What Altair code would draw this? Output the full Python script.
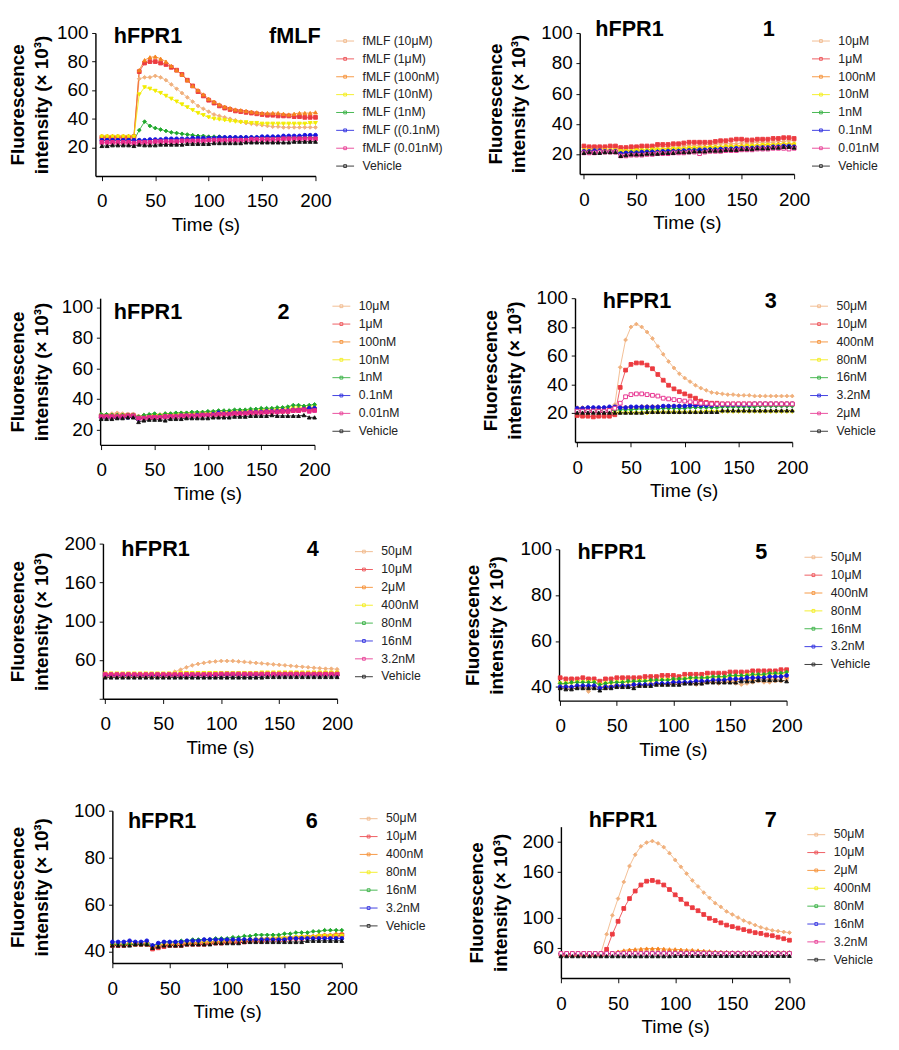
import altair as alt
import pandas as pd

# ---------------- data ----------------
TIME = [0, 5, 10, 15, 20, 25, 30, 35, 40, 45, 50, 55, 60, 65, 70, 75, 80, 85, 90, 95, 100,
        105, 110, 115, 120, 125, 130, 135, 140, 145, 150, 155, 160, 165, 170, 175, 180, 185, 190, 195, 200]

NAMES_FMLF = ["fMLF (10μM)", "fMLF (1μM)", "fMLF (100nM)", "fMLF (10nM)", "fMLF (1nM)",
              "fMLF ((0.1nM)", "fMLF (0.01nM)", "Vehicle"]
NAMES_12 = ["10μM", "1μM", "100nM", "10nM", "1nM", "0.1nM", "0.01nM", "Vehicle"]
NAMES_3 = ["50μM", "10μM", "400nM", "80nM", "16nM", "3.2nM", "2μM", "Vehicle"]
NAMES_47 = ["50μM", "10μM", "2μM", "400nM", "80nM", "16nM", "3.2nM", "Vehicle"]
NAMES_56 = ["50μM", "10μM", "400nM", "80nM", "16nM", "3.2nM", "Vehicle"]

FMLF = [
    [26, 26, 26, 26, 26, 26, 26, 68, 69, 69, 70, 69, 67, 64, 61, 58, 55, 52, 49, 47, 45, 43, 42, 41, 40, 39, 38, 37, 36.5, 36, 35.5, 35, 34.5, 34.5, 34, 34, 34, 34, 34, 34, 34],
    [27, 27, 27, 27, 27, 27, 27.5, 73, 79, 80, 80, 79, 78, 76, 74, 71, 67, 63, 59, 56, 53, 51, 49, 47.5, 46.5, 45.5, 45, 44.5, 44, 43.5, 43, 42.5, 42.5, 42, 42, 42, 41.5, 41.5, 41, 41, 41],
    [28, 28, 28, 28, 28, 28, 28, 74, 81, 83, 83.5, 82, 80, 77, 74, 71, 67, 63, 60, 57, 54, 52, 50, 48.5, 47.5, 46.5, 46, 45.5, 45, 44.5, 44, 44, 44, 44, 43.5, 43, 43.5, 44, 44, 44, 44.5],
    [27.5, 27.5, 27.5, 27.5, 27.5, 27.5, 27.5, 57, 62, 61, 59.5, 58, 56, 54, 52, 50, 48, 46, 44, 42.5, 41, 40, 39.5, 39, 38.5, 38, 37.5, 37.5, 37, 37, 36.5, 36.5, 36.5, 36.5, 36.5, 36.5, 36.5, 36.5, 36.5, 37, 37],
    [25, 25, 25, 25, 25, 25, 25, 32, 38, 35, 33.5, 32.5, 31.5, 30.5, 30, 29.5, 29, 28.5, 28, 28, 27.5, 27.5, 27.5, 27, 27, 27, 27, 27, 27, 27, 27, 27, 27, 27, 27, 27, 27, 27, 27, 27, 27],
    [25, 25, 25, 25, 25, 25, 25, 25, 25, 25.5, 25.5, 25.5, 26, 26, 26, 26, 26, 26.5, 26.5, 26.5, 26.5, 26.5, 27, 27, 27, 27, 27, 27, 27, 27, 27.5, 27.5, 27.5, 27.5, 28, 28, 28, 28, 28.5, 28.5, 28.5],
    [23.5, 23.5, 23.5, 23.5, 23.5, 23.5, 23, 23.5, 23.5, 23.5, 24, 24, 24, 24, 24, 24.5, 24.5, 24.5, 24.5, 24.5, 25, 25, 25, 25, 25, 25, 25, 25, 25.5, 25.5, 25.5, 25.5, 25.5, 25.5, 26, 26, 26, 26, 26, 26, 26],
    [21, 21, 21.5, 21.5, 21.5, 21.5, 21, 22, 21.5, 21.5, 21.5, 22, 22, 22, 22, 22, 22.5, 22.5, 22.5, 22.5, 22.5, 23, 23, 23, 23, 23, 23, 23.5, 23.5, 23.5, 23.5, 23.5, 23.5, 23.5, 23.5, 23.5, 24, 24, 24, 24, 24],
]

CPD1 = [
    [24.5, 24, 24, 24, 24.5, 24.5, 24, 23.5, 23.5, 24, 24, 24.5, 24.5, 24.5, 25, 25, 25, 25.5, 25.5, 25.5, 26, 26, 26, 26.5, 26.5, 26.5, 27, 27, 27, 27, 27.5, 27.5, 27.5, 28, 28, 28, 28, 28.5, 28.5, 29, 29],
    [25.5, 25, 25, 25, 25, 25.5, 25.5, 24.5, 24.5, 25, 25, 25.5, 25.5, 25.5, 26.5, 26.5, 26.5, 27, 27, 27.5, 28, 28, 28, 28, 28, 28.5, 29, 29, 29.5, 30, 30, 29.5, 29.5, 30, 30, 30, 30.5, 30.5, 31, 31, 30.5],
    [23, 23, 23, 23, 23, 23, 23, 22.5, 22.5, 22.5, 23, 23, 23, 23.5, 23.5, 23.5, 24, 24, 24, 24, 24.5, 24.5, 24.5, 25, 25, 25, 25, 25.5, 25.5, 25.5, 26, 26, 26, 26, 26.5, 26.5, 26.5, 27, 27, 27, 27],
    [22.5, 22.5, 22.5, 22.5, 22.5, 22.5, 22.5, 22, 22, 22, 22.5, 22.5, 22.5, 23, 23, 23, 23, 23.5, 23.5, 23.5, 24, 24, 24, 24, 24.5, 24.5, 24.5, 25, 25, 25, 25, 25.5, 25.5, 25.5, 26, 26, 26, 26, 26.5, 26.5, 26.5],
    [22, 22, 22, 22, 22, 22, 22, 21, 21, 21.5, 21.5, 21.5, 22, 22, 22, 22, 22.5, 22.5, 22.5, 22.5, 23, 23, 23, 23, 23.5, 23.5, 23.5, 23.5, 24, 24, 24, 24, 24.5, 24.5, 24.5, 24.5, 25, 25, 25, 25, 25],
    [22, 22, 22.5, 22.5, 22, 22, 22, 20.5, 21, 21, 21, 21.5, 21.5, 21.5, 21.5, 22, 22, 22, 22, 22.5, 22.5, 22.5, 23, 23, 23, 23, 23.5, 23.5, 23.5, 24, 24, 24, 24, 24.5, 24.5, 24.5, 25, 25, 25.5, 25.5, 25],
    [21, 21, 21, 21.5, 21.5, 21.5, 21.5, 19, 19, 19.5, 19.5, 19.5, 20, 20, 20.5, 20.5, 20.5, 21, 21, 21, 21.5, 21.5, 20.5, 21.5, 22, 22, 22, 22.5, 22.5, 22.5, 23, 23, 23, 23.5, 23.5, 23.5, 24, 24, 24, 23.5, 24],
    [21, 21.5, 21, 21, 21.5, 21.5, 21.5, 19, 19.5, 20, 20, 20, 20.5, 20.5, 20.5, 21, 21, 21, 21.5, 21.5, 21.5, 22, 22, 22, 22.5, 22.5, 22.5, 23, 23, 23, 23.5, 23.5, 23.5, 24, 24, 24, 24.5, 24.5, 25, 25, 24.5],
]

CPD2 = [
    [30, 30, 30.5, 31, 30.5, 30, 30, 29, 29.5, 29.5, 30, 30, 30.5, 30.5, 30.5, 31, 31, 31, 31, 31.5, 31.5, 31.5, 32, 32, 32, 32, 32.5, 32.5, 32.5, 32.5, 33, 33, 33, 33, 33.5, 33.5, 33.5, 34, 34, 34, 34],
    [29, 29, 29, 29, 29, 29.5, 29.5, 27.5, 28, 28, 28.5, 28.5, 28.5, 29, 29, 29, 29, 29.5, 29.5, 29.5, 30, 30, 30, 30, 30.5, 30.5, 30.5, 31, 31, 31, 31.5, 31.5, 31.5, 32, 32, 32, 32.5, 32.5, 33, 33, 33],
    [29, 29, 29, 29, 29.5, 29.5, 29.5, 28, 28, 28.5, 28.5, 29, 29, 29, 29.5, 29.5, 29.5, 30, 30, 30, 30.5, 30.5, 30.5, 31, 31, 31, 31, 31.5, 31.5, 31.5, 32, 32, 32, 32.5, 32.5, 32.5, 33, 33, 33.5, 33.5, 34],
    [29, 29, 29, 29, 29, 29, 29, 27.5, 28, 28.5, 29, 29, 29.5, 29.5, 29.5, 30, 30, 30, 30.5, 30.5, 30.5, 31, 31, 31, 31.5, 31.5, 31.5, 32, 32, 32, 32.5, 32.5, 33, 33, 33.5, 33.5, 34, 34, 34.5, 34.5, 35],
    [30, 30, 29.5, 29.5, 29.5, 29.5, 29.5, 28.5, 29.5, 30, 30.5, 29.5, 30.5, 30.5, 31, 31, 31, 31.5, 31.5, 31.5, 32, 32, 32.5, 32.5, 32.5, 33, 33, 33, 33.5, 33.5, 34, 34, 34, 34.5, 34.5, 35, 36, 36, 35.5, 36, 36.5],
    [28, 28, 28, 28, 28, 28, 28.5, 27, 27.5, 28, 28, 28, 28.5, 28.5, 28.5, 29, 29, 29, 29.5, 29.5, 29.5, 30, 31, 30.5, 30.5, 31, 31, 31, 31.5, 31.5, 31.5, 32, 32, 32, 32.5, 32.5, 33, 33, 33.5, 34, 34],
    [28.5, 28.5, 28.5, 28.5, 28.5, 29, 29, 27.5, 27.5, 28, 28, 28, 28.5, 28.5, 28.5, 29, 29, 29, 29, 29.5, 29.5, 29.5, 30, 30, 30, 30.5, 30.5, 30.5, 31, 31, 31, 31.5, 31.5, 31.5, 32, 32, 32.5, 32.5, 33, 32, 32.5],
    [27, 27, 27, 27.5, 27.5, 28, 28, 25, 26, 26.5, 26.5, 26.5, 26, 27, 27, 27, 27.5, 27.5, 27.5, 27.5, 27.5, 28, 28, 28, 28, 28.5, 28.5, 28.5, 29, 29, 29, 29, 29.5, 29, 29, 29, 29, 29, 29.5, 28, 28],
]

CPD3 = [
    [24, 24, 24, 24, 24, 24, 24, 26, 52, 71, 80, 82, 80, 76.5, 72, 66.5, 61, 56, 51.5, 47.5, 44.5, 42, 39.5, 37.5, 36, 34.5, 34, 33.5, 33, 33, 32.5, 32.5, 32.5, 32, 32, 32, 32, 32, 32, 32, 32],
    [18.5, 18, 18, 17.5, 18, 18, 18, 19, 38, 50, 54, 55, 55, 53.5, 51, 47, 43, 39.5, 37, 35, 33.5, 32, 30.5, 28.5, 27.5, 27, 27, 26.5, 26.5, 26.5, 26.5, 26.5, 26.5, 26.5, 26.5, 26.5, 26.5, 26.5, 26.5, 26.5, 26.5],
    [24, 24, 24, 24, 24, 24, 24, 24, 24.5, 24.5, 24.5, 24.5, 25, 25, 25, 25, 25, 25, 25.5, 25.5, 25.5, 25.5, 25.5, 26, 26, 26, 26, 26, 26, 26, 26, 26, 26.5, 26.5, 26.5, 26.5, 26.5, 26.5, 26.5, 26.5, 26.5],
    [20.5, 20.5, 20.5, 20.5, 20.5, 20.5, 20.5, 20, 20, 20, 20, 20, 20, 20, 20.5, 20.5, 20.5, 20.5, 20.5, 20.5, 20.5, 20.5, 20.5, 20.5, 21, 21, 21, 21, 21, 21, 21, 21, 21, 21, 21, 21, 21, 21, 21, 21, 21],
    [22, 22, 22, 22, 22, 22, 22, 22, 22.5, 22.5, 22.5, 23, 23, 23, 23, 23, 23.5, 23.5, 23.5, 23.5, 23.5, 24, 24, 24, 24, 24, 24, 24.5, 24.5, 24.5, 24.5, 24.5, 24.5, 24.5, 25, 25, 25, 25, 25, 25, 25],
    [23.5, 23.5, 24, 24, 24, 24, 24.5, 24.5, 24, 24, 24.5, 24.5, 24.5, 24.5, 24.5, 24.5, 25, 25, 25, 25, 25, 25.5, 25.5, 25.5, 25.5, 25.5, 26, 26, 26, 26, 26, 26, 26, 26.5, 26.5, 26.5, 26.5, 26.5, 26.5, 26.5, 26.5],
    [21.5, 21.5, 21.5, 21.5, 21.5, 21.5, 22, 23.5, 27, 31.5, 33, 33.5, 33.5, 33, 32.5, 32, 30.5, 30, 29.5, 29, 28.5, 28, 27.5, 27, 27, 26.5, 26.5, 26.5, 26.5, 26.5, 26.5, 26.5, 26.5, 26.5, 26.5, 26.5, 26.5, 26.5, 26.5, 26.5, 26.5],
    [20.5, 20.5, 20.5, 20.5, 20.5, 20.5, 20.5, 20.5, 20.5, 20.5, 20.5, 20.5, 20.5, 21, 21, 21, 21, 21, 21, 21, 21, 21, 21, 21, 21, 21, 21, 22, 22, 22, 22, 22, 22, 22, 22, 22, 22, 22, 22, 22, 22],
]

CPD4 = [
    [45, 45, 45, 45, 45, 45, 45, 45, 45, 45, 45, 46, 48, 50, 52.5, 54.5, 56, 57, 58, 58.5, 59, 59, 59, 58.5, 58, 57.5, 57, 56.5, 56, 55.5, 55, 54.5, 54, 53.5, 53, 52.5, 52, 51.5, 51, 51, 50.5],
    [44.5, 44.5, 44.5, 44.5, 44.5, 44.5, 44.5, 44.5, 44.5, 44.5, 44.5, 44.5, 44.5, 44.5, 45, 45, 45, 45, 45, 45, 45, 45, 45, 45, 45, 45, 45, 45, 45, 45, 45.5, 45.5, 45.5, 45.5, 45.5, 45.5, 45.5, 45.5, 45.5, 45.5, 45.5],
    [44, 44, 44, 44, 44, 44, 44, 44, 44, 44, 44, 44, 44.5, 44.5, 44.5, 44.5, 44.5, 44.5, 44.5, 44.5, 44.5, 44.5, 44.5, 44.5, 45, 45, 45, 45, 45, 45, 45, 45, 45, 45, 45, 45, 45, 45, 45, 45, 45],
    [46, 46, 46, 46, 46, 46, 46, 46, 46, 46, 46, 46, 46, 46.5, 46.5, 46.5, 46.5, 46.5, 46.5, 46.5, 46.5, 46.5, 46.5, 46.5, 46.5, 46.5, 46.5, 47, 47, 47, 47, 47, 47, 47, 47, 47, 47, 47, 47, 47, 47],
    [43.5, 43.5, 43.5, 43.5, 43.5, 43.5, 43.5, 43.5, 43.5, 43.5, 43.5, 43.5, 43.5, 43.5, 43.5, 44, 44, 44, 44, 44, 44, 44, 44, 44, 44, 44, 44, 44, 44, 44, 44, 44, 44, 44, 44, 44, 44, 44, 44, 44, 44],
    [44, 44, 44, 44, 44, 44, 44, 44, 44, 44, 44, 44, 44, 44, 44, 44, 44, 44, 44, 44, 44.5, 44.5, 44.5, 44.5, 44.5, 44.5, 44.5, 44.5, 44.5, 44.5, 44.5, 44.5, 44.5, 44.5, 44.5, 44.5, 44.5, 44.5, 44.5, 44.5, 44.5],
    [45, 45, 45, 45, 45, 45, 45, 45, 45, 45, 45, 45, 45, 45, 45, 45, 45, 45, 45, 45, 45.5, 45.5, 45.5, 45.5, 45.5, 45.5, 45.5, 45.5, 45.5, 45.5, 45.5, 45.5, 45.5, 45.5, 45.5, 45.5, 45.5, 45.5, 45.5, 45.5, 45.5],
    [42, 42, 42, 42, 42, 42, 42, 42, 42, 42, 42, 42, 42, 42, 42, 42, 42, 42, 42, 42, 42, 42, 42, 42, 42, 42, 42, 42, 42.5, 42.5, 42.5, 42.5, 42.5, 42.5, 42.5, 42.5, 42.5, 42.5, 42.5, 42.5, 42.5],
]

CPD5 = [
    [41.5, 40.5, 40, 40.5, 39.5, 38, 40, 40, 40.5, 40.5, 41, 41, 40.5, 41, 41, 41, 41.5, 41.5, 41, 41.5, 41.5, 41.5, 42, 41.5, 41, 41.5, 42, 42, 41.5, 42, 42, 41.5, 41, 41.5, 42, 42.5, 42, 42, 42.5, 42.5, 43],
    [44, 43.5, 43.5, 43.5, 44, 43.5, 43.5, 42.5, 43.5, 43.5, 44, 44, 44, 44, 44, 44.5, 44.5, 44.5, 45, 45, 45, 44.5, 45.5, 45.5, 45.5, 45.5, 46, 46, 46, 46, 46.5, 46.5, 46.5, 46.5, 47, 47, 47, 47, 47, 47.5, 47.5],
    [40, 40, 40, 40.5, 40.5, 40.5, 40.5, 40, 40, 40.5, 40.5, 40.5, 41, 41, 41, 41, 41.5, 41.5, 41.5, 41.5, 42, 42, 42, 42, 42.5, 42.5, 42.5, 42.5, 43, 43, 43, 43, 43.5, 43.5, 43.5, 44, 44, 44, 44, 44.5, 44.5],
    [41.5, 41.5, 41.5, 42, 42, 42, 42, 41, 41.5, 41.5, 42, 42, 42, 42, 42.5, 42.5, 42.5, 42.5, 43, 43, 43, 43, 43.5, 43.5, 43.5, 43.5, 44, 44, 44, 44, 44.5, 44.5, 44.5, 45, 45, 45, 45, 45.5, 45.5, 45.5, 46],
    [41.5, 41.5, 42, 42, 42, 42, 42, 41, 41.5, 42, 42, 42, 42.5, 42.5, 42.5, 42.5, 43, 43, 43, 43, 43.5, 43.5, 43.5, 44, 44, 44, 44, 44.5, 44.5, 44.5, 45, 45, 45, 45, 45.5, 45.5, 45.5, 46, 46, 46, 46.5],
    [40, 40, 40, 40.5, 40.5, 40.5, 40.5, 39.5, 40, 40, 40.5, 40.5, 40.5, 41, 41, 41, 41, 41.5, 41.5, 41.5, 42, 42, 42, 42, 42.5, 42.5, 42.5, 43, 43, 43, 43.5, 43.5, 43.5, 44, 44, 44, 44, 44.5, 44.5, 44.5, 45],
    [39.5, 39, 39, 39.5, 39.5, 39.5, 39.5, 38.5, 39.5, 39.5, 40, 40, 40, 39.5, 40.5, 40.5, 40.5, 41, 41, 41, 41, 41, 41.5, 41.5, 41.5, 41.5, 42, 42, 42, 42, 42, 42, 42.5, 42.5, 42.5, 43, 43, 43, 43, 43, 42.5],
]

CPD6 = [
    [43, 43, 43, 43, 43.5, 43.5, 43.5, 42, 42.5, 43, 43, 43, 43.5, 43.5, 43.5, 44, 44, 44, 44, 44.5, 44.5, 44.5, 44.5, 45, 45, 45, 45.5, 45.5, 45.5, 45.5, 46, 46, 46, 46.5, 46.5, 46.5, 47, 47, 47, 47.5, 47.5],
    [42.5, 42.5, 42.5, 43, 43, 43, 43, 41, 41.5, 42, 42.5, 42.5, 42.5, 43, 43, 43, 43, 43.5, 43.5, 43.5, 44, 44, 44, 44, 44.5, 44.5, 44.5, 45, 45, 45, 45, 45.5, 45.5, 45.5, 46, 46, 46, 46.5, 46.5, 46.5, 47],
    [43, 43, 43, 43, 43, 43, 43, 42, 42.5, 43, 43, 43, 43.5, 43.5, 43.5, 44, 44, 44, 44, 44.5, 44.5, 44.5, 45, 45, 45, 45, 45.5, 45.5, 45.5, 46, 46, 46, 46, 46.5, 46.5, 46.5, 47, 47, 47, 47.5, 47.5],
    [43, 43, 43, 43, 43, 43, 43, 42, 42.5, 43, 43, 43, 43.5, 43.5, 43.5, 43.5, 44, 44, 44, 44, 44.5, 44.5, 44.5, 44.5, 45, 45, 45, 45, 45.5, 45.5, 45.5, 45.5, 46, 46, 46, 46, 46.5, 46.5, 46.5, 46.5, 46.5],
    [43, 43, 43, 43, 43, 43, 43, 42.5, 43, 44, 44, 44, 44.5, 44.5, 45, 45, 45, 45, 45.5, 45.5, 45.5, 46, 46, 46.5, 46.5, 47, 47, 47, 47, 47, 47.5, 47.5, 48, 48, 48, 48.5, 48.5, 49, 49, 49, 49],
    [44, 44, 44, 44.5, 44, 44, 44.5, 42.5, 43.5, 44, 44, 44, 44, 44.5, 44.5, 44.5, 45, 45, 45, 45, 45, 45, 45, 45, 45, 45, 45, 45, 45, 45, 45, 45.5, 45.5, 45.5, 45.5, 45.5, 45.5, 45.5, 45.5, 45.5, 45.5],
    [42.5, 42.5, 42.5, 42.5, 43, 43, 43, 41.5, 42, 42.5, 42.5, 42.5, 42.5, 43, 43, 43, 43, 43, 43.5, 43.5, 43.5, 43.5, 43.5, 44, 44, 44, 44, 44, 44, 44, 44, 44, 44, 44, 44.5, 44.5, 44.5, 44.5, 44.5, 44.5, 44.5],
]

CPD7 = [
    [51, 51, 51, 51, 51, 51, 51, 53, 78, 103, 125, 147, 168, 183, 194, 199, 201, 198, 193, 185, 176, 167, 158, 149, 141, 133, 126, 119, 114, 108, 104, 100, 96, 93, 90, 87, 85, 83, 82, 81, 80],
    [51, 51, 51, 51, 51, 51, 51, 51, 58, 78, 95, 112, 125, 135, 143, 148, 149, 147, 143, 137, 130, 124, 118, 113, 109, 104, 99, 96, 93, 90, 88, 86, 84, 82, 80, 79, 77, 76, 74, 72, 70],
    [52, 52, 52, 52, 52, 52, 52, 52, 52, 53, 55, 56.5, 57.5, 58, 58.5, 59, 59, 59, 58.5, 58, 58, 57.5, 57, 57, 56.5, 56, 55.5, 55, 54.5, 54.5, 54, 54, 54, 54, 54, 54, 54, 54, 54, 54, 54],
    [52.5, 52.5, 52.5, 52.5, 52.5, 52.5, 52.5, 52.5, 52.5, 52.5, 52.5, 52.5, 52.5, 52.5, 52.5, 52.5, 52.5, 52.5, 52.5, 52.5, 53, 53, 53, 53, 53, 53, 53, 53, 53, 53, 53, 53, 53, 53, 53, 53, 53, 53, 53, 53, 53],
    [52, 52, 52, 52, 52, 52, 52, 52, 52, 52, 52, 52, 52, 52, 52, 52, 52, 52, 52, 52, 52.5, 52.5, 52.5, 52.5, 52.5, 52.5, 52.5, 52.5, 52.5, 52.5, 52.5, 52.5, 52.5, 52.5, 52.5, 52.5, 52.5, 52.5, 52.5, 52.5, 52.5],
    [52.5, 52.5, 52.5, 52.5, 52.5, 52.5, 52.5, 52.5, 52.5, 52.5, 52.5, 52.5, 52.5, 52.5, 52.5, 53, 53, 53, 53, 53, 53, 53, 53, 53, 53, 53, 53, 53, 53, 53, 53, 53, 53, 53, 53, 53, 53, 53, 53, 53, 53],
    [52.5, 52.5, 52.5, 52.5, 52.5, 52.5, 52.5, 52.5, 52.5, 52.5, 52.5, 52.5, 52.5, 52.5, 52.5, 52.5, 52.5, 52.5, 52.5, 52.5, 52.5, 52.5, 52.5, 52.5, 52.5, 52.5, 52.5, 52.5, 52.5, 52.5, 52.5, 52.5, 52.5, 52.5, 52.5, 52.5, 52.5, 52.5, 52.5, 52.5, 52.5],
    [49, 49, 49, 49, 49, 49, 49, 49, 49, 49, 49, 49, 49, 49, 49, 49, 49, 49, 49, 49, 49.5, 49.5, 49.5, 49.5, 49.5, 49.5, 49.5, 49.5, 49.5, 49.5, 49.5, 49.5, 49.5, 49.5, 49.5, 49.5, 49.5, 49.5, 49.5, 49.5, 49.5],
]

X_TICKS = [0, 50, 100, 150, 200]

# ---------------- styles ----------------
TAN, RED, ORANGE, YELLOW = "#F0B07C", "#EC3B40", "#F5841F", "#F2EC00"
GREEN, BLUE, MAGENTA, BLACK = "#1FA82C", "#1616DC", "#E62A8B", "#111111"
COL8 = [TAN, RED, ORANGE, YELLOW, GREEN, BLUE, MAGENTA, BLACK]
COL7 = [TAN, RED, ORANGE, YELLOW, GREEN, BLUE, BLACK]
SHP8 = ["diamond", "square", "triangle-up", "triangle-down", "diamond", "circle", "square", "triangle-up"]
SHP7 = ["diamond", "square", "triangle-up", "triangle-down", "diamond", "circle", "triangle-up"]
LEGEND_SYMBOL = "M-1.9,0L1.9,0M-0.3,-0.3L0.3,-0.3L0.3,0.3L-0.3,0.3Z"
FONT = "Liberation Sans"


def panel(names, series, colors, shapes, number, w, h, ydom, xdom, ytp,
          hx, hy, nx, ny, yvals, open_idx=None, label_expr=None, sx=0, sy=0):
    rows = []
    for i, (name, vals) in enumerate(zip(names, series)):
        for t, v in zip(TIME, vals):
            rows.append({"t": t, "v": v, "s": name, "k": i})
    df = pd.DataFrame(rows)
    idx = list(range(len(names)))
    fills = [("white" if i == open_idx else c) for i, c in enumerate(colors)]

    yaxis_kw = dict(
        title=["Fluorescence", "intensity (× 10³)"], titleFontSize=20, titleFontWeight="bold",
        titleColor="black", titleLineHeight=25, titlePadding=ytp,
        labelFontSize=20, labelColor="black", labelPadding=4, tickSize=4, tickColor="black",
        domainColor="black", domainWidth=1.5, grid=False, values=yvals, labelOverlap=False,
        offset=-sx,
    )
    if label_expr is not None:
        yaxis_kw["labelExpr"] = label_expr

    base = alt.Chart(df)
    line = base.mark_line(strokeWidth=1, opacity=0.85).encode(
        x=alt.X("t:Q", scale=alt.Scale(domain=xdom, range=[sx, w + sx], nice=False, zero=False),
                axis=alt.Axis(values=X_TICKS, title="Time (s)", titleFontSize=20,
                              titleFontWeight="normal", titleColor="black", titlePadding=5,
                              labelFontSize=20, labelColor="black", labelPadding=12,
                              tickSize=5, tickColor="black", domainColor="black",
                              domainWidth=1.5, grid=False, labelFlush=False,
                              labelOverlap=False)),
        y=alt.Y("v:Q", scale=alt.Scale(domain=ydom, range=[h + sy, sy], nice=False, zero=False),
                axis=alt.Axis(**yaxis_kw)),
        color=alt.Color("s:N", scale=alt.Scale(domain=names, range=colors), sort=names,
                        legend=alt.Legend(title=None, orient="right", offset=18 - sy,
                                          padding=2 + sy,
                                          symbolType=LEGEND_SYMBOL,
                                          symbolStrokeWidth=1, labelFontSize=13,
                                          labelColor="#222222", labelOffset=12,
                                          rowPadding=5, labelLimit=200)),
    )
    pts = base.mark_point(filled=True, size=16, strokeWidth=1, opacity=1).encode(
        x=alt.X("t:Q", axis=alt.Axis(orient="top", title="hFPR1", titleX=hx + sx, titleY=hy + sy,
                                      titleAlign="left", titleBaseline="alphabetic",
                                      titleFontSize=23, titleFontWeight="bold",
                                      titleColor="black", domain=False, ticks=False,
                                      labels=False, grid=False, minExtent=0, maxExtent=0)),
        y=alt.Y("v:Q", axis=alt.Axis(orient="right", title=number, titleAngle=0,
                                      titleX=nx, titleY=ny + sy, titleAlign="right",
                                      titleBaseline="alphabetic", titleFontSize=23,
                                      titleFontWeight="bold", titleColor="black",
                                      domain=False, ticks=False, labels=False, grid=False,
                                      minExtent=0, maxExtent=0)),
        fill=alt.Fill("k:N", scale=alt.Scale(domain=idx, range=fills), legend=None),
        stroke=alt.Stroke("k:N", scale=alt.Scale(domain=idx, range=colors), legend=None),
        shape=alt.Shape("k:N", scale=alt.Scale(domain=idx, range=shapes), legend=None),
    )
    return (alt.layer(line, pts)
            .resolve_axis(x="independent", y="independent")
            .properties(width=w + sx, height=h + sy))


IND = dict(color="independent", fill="independent", stroke="independent",
           shape="independent", x="independent", y="independent")

p0 = panel(NAMES_FMLF, FMLF, COL8, SHP8, "fMLF", 234, 152, [0, 100], [-6, 200], 6,
           19, 10, 5, 10, [20, 40, 60, 80, 100])
p1 = panel(NAMES_12, CPD1, COL8, SHP8, "1", 228, 150, [7, 100], [-4, 200], 13,
           16, 3, -21, 3, [20, 40, 60, 80, 100], open_idx=6)
p2 = panel(NAMES_12, CPD2, COL8, SHP8, "2", 228, 156, [10, 106], [-1, 200], 11,
           14, 22, -27, 22, [20, 40, 60, 80, 100], sx=5)
p3 = panel(NAMES_3, CPD3, COL8, SHP8, "3", 231, 153, [0, 100], [-2, 200], 13,
           29, 10, -17, 10, [20, 40, 60, 80, 100], open_idx=6)
p4 = panel(NAMES_47, CPD4, COL8, SHP8, "4", 249, 165, [20, 180], [-2, 200], 14,
           19, 13, -20, 13, [20, 60, 100, 140, 180], sx=8,
           label_expr="datum.value == 20 ? '' : datum.value == 140 ? '160' : datum.value == 180 ? '200' : datum.label")
p5 = panel(NAMES_56, CPD5, COL7, SHP7, "5", 242, 161, [34, 100], [-1, 200], 15,
           19, 10, -21, 10, [40, 60, 80, 100], sy=6)
p6 = panel(NAMES_56, CPD6, COL7, SHP7, "6", 244, 162, [35, 100], [0, 200], 24,
           16, 18, -26, 18, [40, 60, 80, 100], sx=18)
p7 = panel(NAMES_47, CPD7, COL8, SHP8, "7", 243, 161, [20, 220], [0, 200], 13,
           29, 0, -14, 0, [60, 100, 160, 200], open_idx=6, sy=17)


def row(a, b, gap):
    return alt.concat(a, b, columns=2, align="none", spacing=gap).resolve_scale(**IND)


r1 = row(p0, p1, 43)
r2 = row(p2, p3, 84)
r3 = row(p4, p5, 43)
r4 = row(p6, p7, 42)

s12 = alt.concat(r1, r2, columns=1, align="none", spacing=58).resolve_scale(**IND)
s123 = alt.concat(s12, r3, columns=1, align="none", spacing=33).resolve_scale(**IND)
chart = (alt.concat(s123, r4, columns=1, align="none", spacing=45)
         .resolve_scale(**IND)
         .properties(padding={"left": 0, "top": -22, "right": 0, "bottom": 0})
         .configure(font=FONT)
         .configure_view(stroke=None))

chart.save("out.html", embed_options={"renderer": "svg", "actions": False})
